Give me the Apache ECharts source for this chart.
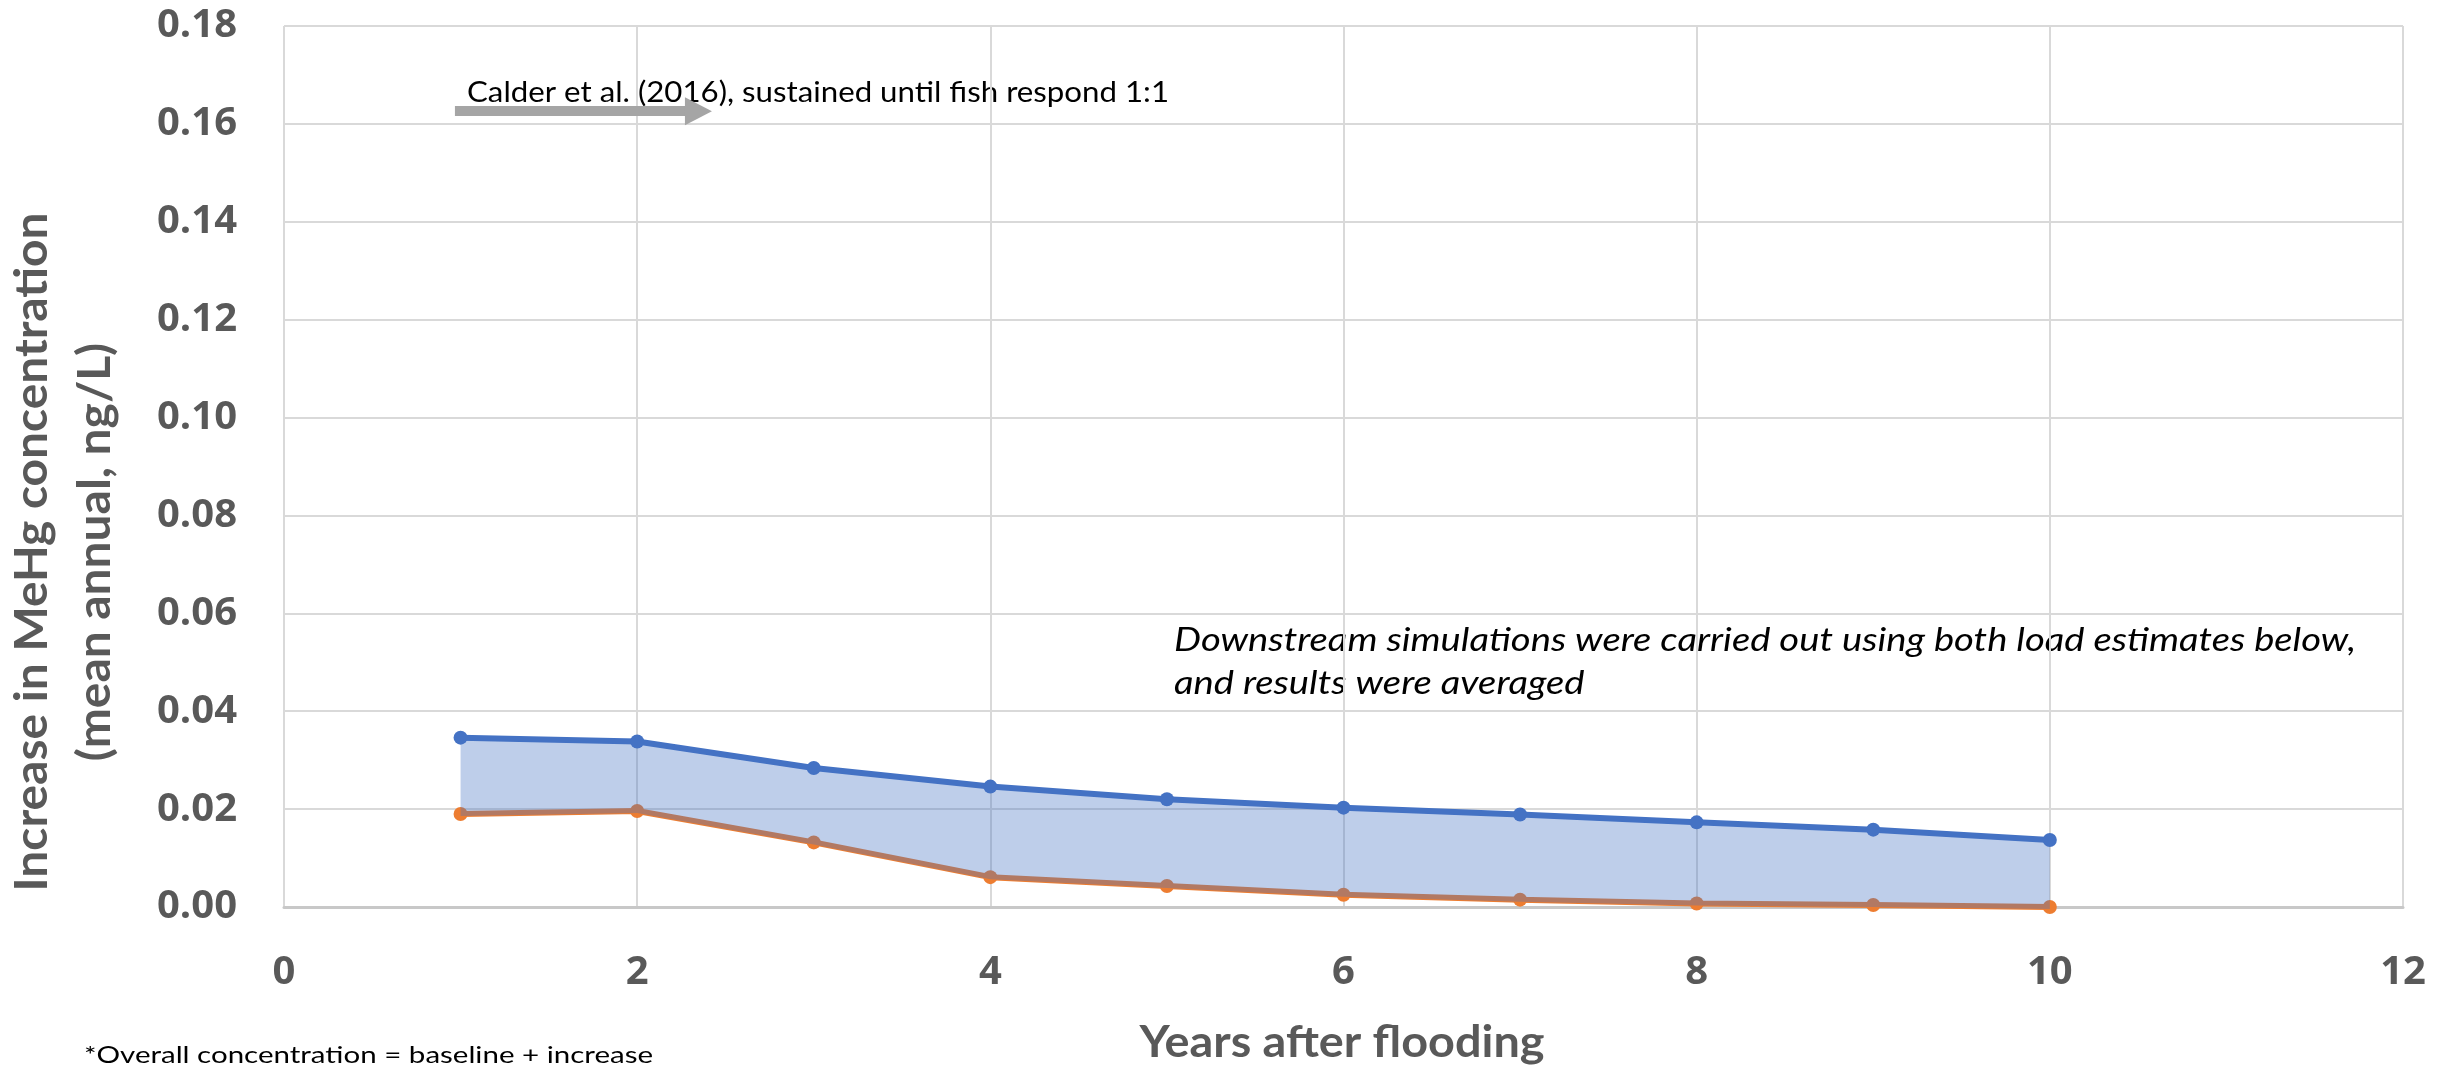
<!DOCTYPE html>
<html>
<head>
<meta charset="utf-8">
<script src="https://cdn.jsdelivr.net/npm/echarts@6/dist/echarts.min.js"></script>
<style>
  html, body { margin: 0; padding: 0; background: #fff; }
  #chart { width: 2453px; height: 1070px; }
</style>
</head>
<body>
<div id="chart"></div>
<script>
// years after flooding
const years = [1, 2, 3, 4, 5, 6, 7, 8, 9, 10];
// upper load estimate (blue)
const upperLoad = [0.0346, 0.0338, 0.0284, 0.0246, 0.0220, 0.0203, 0.0189, 0.0173, 0.0158, 0.0137];
// lower load estimate (orange)
const lowerLoad = [0.0190, 0.0196, 0.0132, 0.0061, 0.0043, 0.0025, 0.0015, 0.0007, 0.0004, 0.0000];

const xTicks = { min: 0, max: 12, interval: 2 };
const yTicks = { min: 0, max: 0.18, interval: 0.02 };

const yTitle = ['Increase in MeHg concentration', '(mean annual, ng/L)'];
const xTitle = 'Years after flooding';
const calderNote = 'Calder et al. (2016), sustained until fish respond 1:1';
const simNote = ['Downstream simulations were carried out using both load estimates below,', 'and results were averaged'];
const footNote = '*Overall concentration = baseline + increase';

const chartDom = document.getElementById('chart');
const myChart = echarts.init(chartDom);

const gray = '#595959';
const labelFont = '"Open Sans"';

// squeeze text horizontally so it takes the same width as in the original (Calibri is narrow)
const measureCtx = document.createElement('canvas').getContext('2d');
function fitScale(text, font, width) {
    measureCtx.font = font;
    return width / measureCtx.measureText(text).width;
}

const yTitleFont = 'bold 46px Lato';
const xTitleFont = 'bold 43px Lato';
const calderFont = '28px Lato';
const simFont = 'italic 32px Lato';
const footFont = '24px Lato';

const option = {
    animation: false,
    grid: { left: 284, right: 50, top: 26, bottom: 163 },
    xAxis: {
        type: 'value',
        min: xTicks.min, max: xTicks.max, interval: xTicks.interval,
        axisLine: { show: true, lineStyle: { color: '#C8C8C8', width: 3 } },
        axisTick: { show: false },
        axisLabel: { color: gray, fontSize: 40, fontWeight: 'bold', fontFamily: labelFont, margin: 46 },
        splitLine: { show: true, lineStyle: { color: '#D9D9D9', width: 2 } }
    },
    yAxis: {
        type: 'value',
        min: yTicks.min, max: yTicks.max, interval: yTicks.interval,
        axisLine: { show: false },
        axisTick: { show: false },
        axisLabel: {
            color: gray, fontSize: 40, fontWeight: 'bold', fontFamily: labelFont, margin: 47,
            formatter: v => v.toFixed(2)
        },
        splitLine: { show: true, lineStyle: { color: '#D9D9D9', width: 2 } }
    },
    graphic: [
        {
            type: 'text', x: 64, y: 552, rotation: Math.PI / 2,
            scaleX: fitScale(yTitle[0], yTitleFont, 679),
            style: {
                text: yTitle.join('\n'), fill: gray, font: yTitleFont,
                align: 'center', verticalAlign: 'middle', lineHeight: 63
            }
        },
        {
            type: 'text', x: 1342, y: 1043,
            scaleX: fitScale(xTitle, xTitleFont, 405),
            style: { text: xTitle, fill: gray, font: xTitleFont, align: 'center', verticalAlign: 'middle' }
        },
        {
            type: 'text', x: 467, y: 93,
            scaleX: fitScale(calderNote, calderFont, 702),
            style: { text: calderNote, fill: '#000', font: calderFont, verticalAlign: 'middle' }
        },
        {
            type: 'text', x: 1174, y: 662,
            scaleX: fitScale(simNote[0], simFont, 1182),
            style: { text: simNote.join('\n'), fill: '#000', font: simFont, verticalAlign: 'middle', lineHeight: 43 }
        },
        {
            type: 'text', x: 84, y: 1055,
            scaleX: fitScale(footNote, footFont, 569),
            style: { text: footNote, fill: '#000', font: footFont, verticalAlign: 'middle' }
        }
    ],
    series: [
        {
            name: 'Lower',
            type: 'line',
            z: 2,
            data: years.map((x, i) => [x, lowerLoad[i]]),
            color: '#ED7D31',
            lineStyle: { width: 6 },
            symbol: 'circle', symbolSize: 14
        },
        {
            name: 'Band',
            type: 'custom',
            z: 3,
            data: years.map((x, i) => [x, upperLoad[i], lowerLoad[i]]),
            encode: { x: 0, y: [1, 2] },
            silent: true,
            renderItem: function (params, api) {
                if (params.dataIndex !== 0) return null;
                const top = years.map((x, i) => api.coord([x, upperLoad[i]]));
                // lower edge sits near the bottom of the orange line, so the line shows through tinted
                const bottom = years.map((x, i) => {
                    const p = api.coord([x, lowerLoad[i]]);
                    return [p[0], p[1] + 2];
                }).reverse();
                return {
                    type: 'polygon',
                    shape: { points: top.concat(bottom) },
                    style: { fill: 'rgba(68,114,196,0.35)' }
                };
            }
        },
        {
            name: 'Upper',
            type: 'line',
            z: 4,
            data: years.map((x, i) => [x, upperLoad[i]]),
            color: '#4472C4',
            lineStyle: { width: 6 },
            symbol: 'circle', symbolSize: 14,
            markLine: {
                silent: true,
                symbol: ['none', 'triangle'],
                symbolSize: [28, 27],
                label: { show: false },
                lineStyle: { color: '#A5A5A5', width: 10, type: 'solid' },
                data: [[{ coord: [0.968, 0.1626] }, { coord: [2.347, 0.1626] }]]
            }
        }
    ]
};

option && myChart.setOption(option);
</script>
</body>
</html>
